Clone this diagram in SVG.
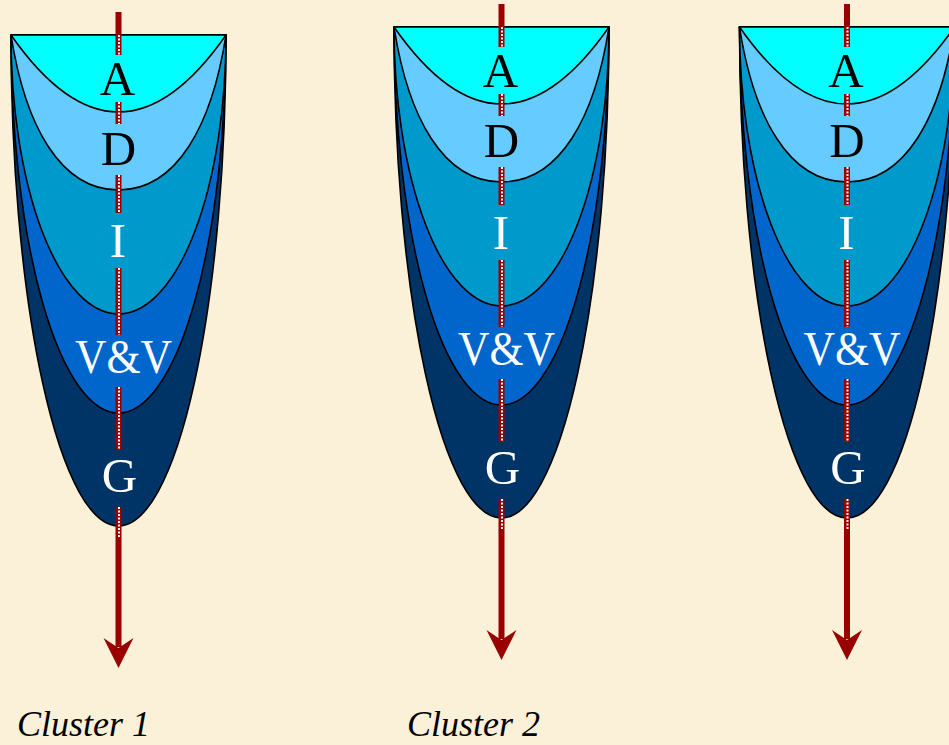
<svg xmlns="http://www.w3.org/2000/svg" xmlns:xlink="http://www.w3.org/1999/xlink" width="949" height="745" viewBox="0 0 949 745">
  <style>
    .edge { stroke: #000; stroke-width: 1.6; stroke-linejoin: round; }
    .navy { fill: #003366; }
    .blue { fill: #0066CC; }
    .mid { fill: #0099CC; }
    .lblue { fill: #66CCFF; }
    .cyan { fill: #00FFFF; }
    .lbl { font-family: "Liberation Serif", "Times New Roman", serif; font-size: 49px; text-anchor: middle; }
    .dk { fill: #000; }
    .wt { fill: #fff; }
    .cap { font-family: "Liberation Serif", "Times New Roman", serif; font-style: italic; font-size: 36px; fill: #000; }
    .red { stroke: #990000; stroke-width: 6; fill: none; }
    .dots { stroke: #fff; stroke-width: 2; stroke-dasharray: 2 1.5; fill: none; }
    .head { fill: #990000; }
  </style>
  <defs>
    <g id="cone">
      <path class="navy edge" d="M0,0 A107.5,491 0 0 0 215,0 Z"/>
      <path class="blue edge" d="M0,0 A107.5,378 0 0 0 215,0 Z"/>
      <path class="mid edge" d="M0,0 A107.5,279 0 0 0 215,0 Z"/>
      <path class="lblue edge" d="M0,0 C14,90 49,155 107.5,155 C166,155 201,90 215,0 Z"/>
      <path class="cyan edge" d="M0,0 Q107.5,154 215,0 Z"/>
    </g>
    <g id="arrow">
      <line class="red" x1="107.5" y1="-23" x2="107.5" y2="0"/>
      <path class="red" d="M107.5,0 V20 M107.5,67 V89 M107.5,140 V178 M107.5,233 V300 M107.5,352 V415 M107.5,472 V503"/>
      <path class="dots" d="M108,0 V20 M108,67 V89 M108,140 V178 M108,233 V300 M108,352 V415 M108,472 V503"/>
      <line class="red" x1="107.5" y1="503" x2="107.5" y2="612"/>
      <path class="head" d="M107.5,633 L92.5,603 L107.5,613 L122.5,603 Z"/>
    </g>
  </defs>
  <rect width="949" height="745" fill="#FBF0D8"/>

  <g id="cluster1" transform="translate(11,35)">
    <use xlink:href="#cone" href="#cone"/>
    <text class="lbl dk" x="106.5" y="60">A</text>
    <text class="lbl dk" x="107.5" y="130">D</text>
    <text class="lbl wt" x="107" y="222">I</text>
    <text class="lbl wt" x="112.5" y="338" textLength="97" lengthAdjust="spacingAndGlyphs">V&amp;V</text>
    <text class="lbl wt" x="108.5" y="457">G</text>
  </g>
  <g id="cluster2" transform="translate(394,27)">
    <use xlink:href="#cone" href="#cone"/>
    <text class="lbl dk" x="106.5" y="60">A</text>
    <text class="lbl dk" x="107.5" y="130">D</text>
    <text class="lbl wt" x="107" y="222">I</text>
    <text class="lbl wt" x="112.5" y="338" textLength="97" lengthAdjust="spacingAndGlyphs">V&amp;V</text>
    <text class="lbl wt" x="108.5" y="457">G</text>
  </g>
  <g id="cluster3" transform="translate(739.5,27)">
    <use xlink:href="#cone" href="#cone"/>
    <text class="lbl dk" x="106.5" y="60">A</text>
    <text class="lbl dk" x="107.5" y="130">D</text>
    <text class="lbl wt" x="107" y="222">I</text>
    <text class="lbl wt" x="112.5" y="338" textLength="97" lengthAdjust="spacingAndGlyphs">V&amp;V</text>
    <text class="lbl wt" x="108.5" y="457">G</text>
  </g>

  <g id="connectors">
    <use xlink:href="#arrow" href="#arrow" transform="translate(11,35)"/>
    <use xlink:href="#arrow" href="#arrow" transform="translate(394,27)"/>
    <use xlink:href="#arrow" href="#arrow" transform="translate(739.5,27)"/>
  </g>

  <g id="captions">
    <text class="cap" x="17" y="736">Cluster 1</text>
    <text class="cap" x="407" y="736">Cluster 2</text>
  </g>
</svg>
